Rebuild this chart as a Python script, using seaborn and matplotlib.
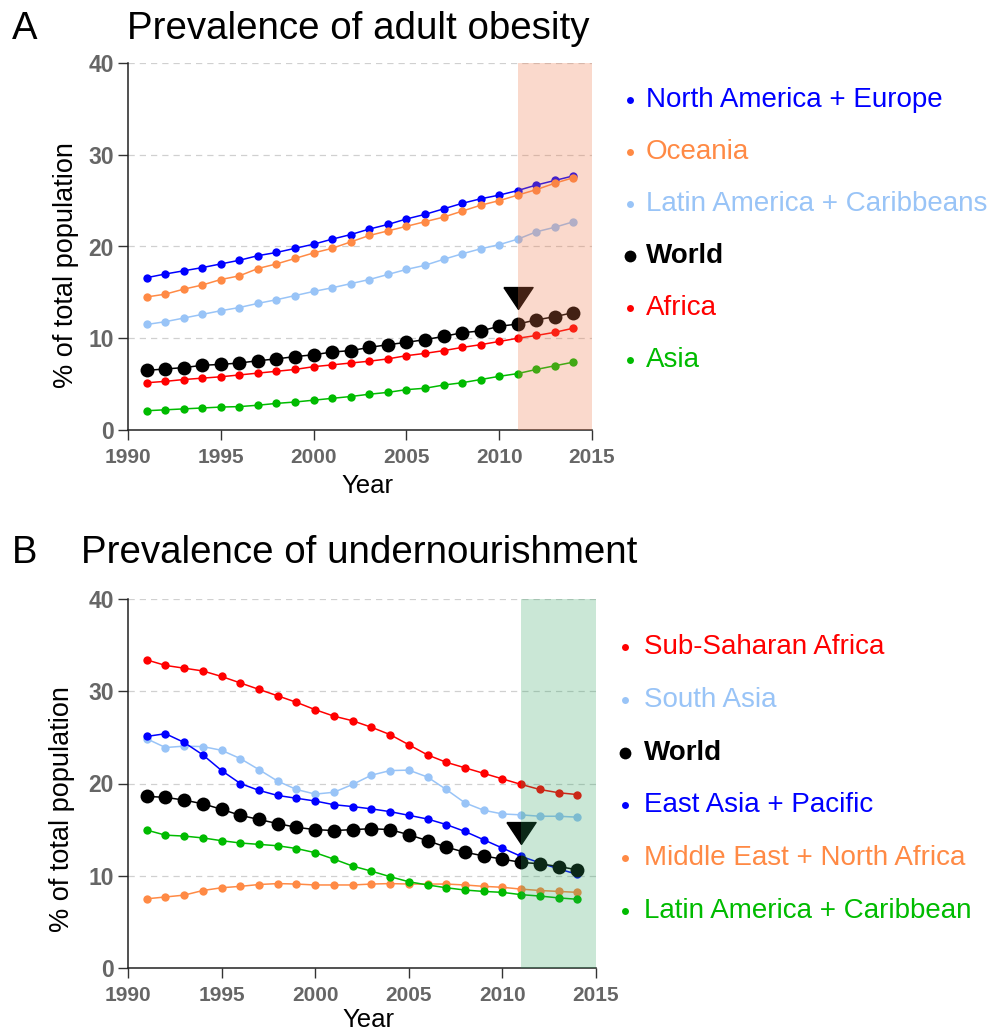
import numpy as np
import pandas as pd
import matplotlib
matplotlib.use('Agg')
import matplotlib.pyplot as plt
from matplotlib.lines import Line2D
import seaborn as sns

years = list(range(1991, 2015))

# panel A - adult obesity (% of total population)
obes_na_eu = [16.6, 17.0, 17.35, 17.7, 18.1, 18.5, 19.0, 19.35, 19.8, 20.25, 20.8, 21.3,
              21.9, 22.4, 23.0, 23.5, 24.1, 24.7, 25.2, 25.6, 26.1, 26.7, 27.2, 27.7]
obes_oceania = [14.5, 14.8, 15.35, 15.8, 16.4, 16.8, 17.6, 18.1, 18.7, 19.3, 19.8, 20.5,
                21.2, 21.7, 22.2, 22.7, 23.2, 23.85, 24.5, 25.0, 25.6, 26.2, 26.9, 27.5]
obes_latam = [11.5, 11.8, 12.2, 12.6, 13.0, 13.35, 13.8, 14.2, 14.65, 15.1, 15.5, 15.95,
              16.4, 16.95, 17.5, 17.95, 18.6, 19.2, 19.75, 20.2, 20.8, 21.6, 22.1, 22.7]
obes_world = [6.5, 6.65, 6.8, 7.05, 7.15, 7.3, 7.55, 7.75, 8.0, 8.2, 8.5, 8.65,
              9.0, 9.3, 9.55, 9.85, 10.2, 10.6, 10.8, 11.3, 11.55, 12.0, 12.35, 12.8]
obes_africa = [5.15, 5.3, 5.5, 5.65, 5.8, 6.0, 6.2, 6.4, 6.6, 6.9, 7.1, 7.3,
               7.5, 7.75, 8.1, 8.35, 8.65, 9.0, 9.3, 9.65, 10.0, 10.3, 10.65, 11.1]
obes_asia = [2.1, 2.2, 2.3, 2.4, 2.5, 2.55, 2.7, 2.9, 3.05, 3.25, 3.45, 3.65,
             3.9, 4.1, 4.4, 4.55, 4.9, 5.15, 5.5, 5.85, 6.15, 6.6, 7.0, 7.4]

# panel B - undernourishment (% of total population)
under_ssa = [33.4, 32.8, 32.5, 32.2, 31.6, 30.9, 30.2, 29.5, 28.8, 28.0, 27.3, 26.8,
             26.1, 25.3, 24.2, 23.1, 22.3, 21.7, 21.1, 20.5, 19.9, 19.35, 19.0, 18.8]
under_sasia = [24.85, 23.9, 24.05, 24.0, 23.6, 22.7, 21.5, 20.25, 19.35, 18.85, 19.05, 19.9,
               20.9, 21.4, 21.45, 20.7, 19.35, 17.9, 17.1, 16.7, 16.6, 16.45, 16.45, 16.35]
under_world = [18.6, 18.5, 18.2, 17.8, 17.2, 16.55, 16.1, 15.65, 15.25, 15.0, 14.9, 15.0,
               15.1, 15.0, 14.45, 13.8, 13.1, 12.55, 12.15, 11.8, 11.45, 11.3, 11.0, 10.65]
under_easia = [25.1, 25.4, 24.45, 23.1, 21.4, 20.0, 19.25, 18.7, 18.4, 18.1, 17.7, 17.5,
               17.25, 16.95, 16.55, 16.15, 15.55, 14.8, 13.9, 13.0, 12.1, 11.4, 10.75, 10.15]
under_mena = [7.5, 7.7, 7.9, 8.4, 8.7, 8.85, 9.05, 9.15, 9.1, 9.0, 9.0, 9.0,
              9.1, 9.15, 9.1, 9.1, 9.1, 9.0, 8.85, 8.75, 8.55, 8.4, 8.3, 8.2]
under_latam = [14.95, 14.4, 14.3, 14.1, 13.8, 13.55, 13.4, 13.25, 12.95, 12.5, 11.8, 11.05,
               10.5, 9.9, 9.35, 9.0, 8.7, 8.45, 8.3, 8.2, 7.95, 7.8, 7.6, 7.45]

names_a = ['North America + Europe', 'Oceania', 'Latin America + Caribbeans', 'World', 'Africa', 'Asia']
names_b = ['Sub-Saharan Africa', 'South Asia', 'World', 'East Asia + Pacific',
           'Middle East + North Africa', 'Latin America + Caribbean']

BLUE = '#0000ff'
ORANGE = '#ff8a45'
LIGHTBLUE = '#99c4f7'
BLACK = '#000000'
RED = '#ff0000'
GREEN = '#00bb00'

series_a = [(obes_na_eu, BLUE), (obes_oceania, ORANGE), (obes_latam, LIGHTBLUE),
            (obes_world, BLACK), (obes_africa, RED), (obes_asia, GREEN)]
series_b = [(under_ssa, RED), (under_sasia, LIGHTBLUE), (under_world, BLACK),
            (under_easia, BLUE), (under_mena, ORANGE), (under_latam, GREEN)]

sns.set_style('ticks')
plt.rcParams['font.family'] = ['Liberation Sans', 'DejaVu Sans']

fig = plt.figure(figsize=(9.98, 10.33), dpi=100)
W, H = 998.0, 1033.0

def fx(px):
    return px / W

def fy(py):
    return 1 - py / H

ax_a = fig.add_axes([fx(128), fy(430), fx(592) - fx(128), fy(63) - fy(430)])
ax_b = fig.add_axes([fx(128), fy(968), fx(596) - fx(128), fy(599) - fy(968)])

# flattened triangle marker
tri = [(-1, 0.75), (1, 0.75), (0, -0.75), (-1, 0.75)]

def draw_panel(ax, series, names, shade_col, shade_alpha, tri_y, xlab_pos, ylab_pos):
    for i, (vals, col) in enumerate(series):
        world = names[i] == 'World'
        sns.lineplot(x=years, y=vals, ax=ax, color=col, marker='o',
                     markersize=10 if world else 6, markeredgewidth=0,
                     linewidth=1.1, zorder=4 if world else 3)
    ax.plot([2011], [tri_y], marker=tri, markersize=21, color='black',
            linestyle='none', zorder=5)
    ax.axvspan(2011, 2015, ymin=0, ymax=1, color=shade_col, alpha=shade_alpha,
               lw=0, zorder=6)
    ax.set_xlim(1990, 2015)
    ax.set_ylim(0, 40)
    ax.set_xticks(range(1990, 2016, 5))
    ax.set_yticks([0, 10, 20, 30, 40])
    for yv in [10, 20, 30, 40]:
        ax.axhline(yv, color='#d0d0d0', lw=0.9, ls=(0, (5, 4)), zorder=1)
    sns.despine(ax=ax)
    for s in ['left', 'bottom']:
        ax.spines[s].set_color('#222222')
        ax.spines[s].set_linewidth(1.1)
    ax.tick_params(axis='both', length=7, width=1.0, color='#333333',
                   labelcolor='#666666')
    ax.tick_params(axis='x', labelsize=15, pad=6)
    ax.tick_params(axis='y', labelsize=16.5, pad=3)
    for lab in ax.get_xticklabels() + ax.get_yticklabels():
        lab.set_fontweight('bold')
    ax.set_xlabel('Year', fontsize=18.5, color='black')
    ax.set_ylabel('% of total population', fontsize=19.5, color='black')
    ax.xaxis.set_label_coords(*xlab_pos)
    ax.yaxis.set_label_coords(*ylab_pos)
    ax.xaxis.label.set_va('center')
    ax.yaxis.label.set_va('center')

draw_panel(ax_a, series_a, names_a, '#f07848', 0.28, 14.4, (0.515, -0.152), (-0.133, 0.45))
draw_panel(ax_b, series_b, names_b, '#2ca25f', 0.25, 14.6, (0.513, -0.141), (-0.142, 0.432))

# titles and panel letters
fig.text(fx(12), fy(29), 'A', fontsize=27.5, va='center', ha='left', color='black')
fig.text(fx(127), fy(29), 'Prevalence of adult obesity', fontsize=27.7, va='center',
         ha='left', color='black')
fig.text(fx(12), fy(553), 'B', fontsize=27.5, va='center', ha='left', color='black')
fig.text(fx(81), fy(553), 'Prevalence of undernourishment', fontsize=27.7, va='center',
         ha='left', color='black')

# legends as coloured labels
def draw_legend(series, names, x_dot, x_txt, y0, step):
    for i, ((vals, col), name) in enumerate(zip(series, names)):
        yy = y0 + i * step
        world = name == 'World'
        fig.add_artist(Line2D([fx(x_dot)], [fy(yy)], marker='o',
                              markersize=8.5 if world else 5, color=col,
                              markeredgewidth=0, transform=fig.transFigure))
        fig.text(fx(x_txt), fy(yy), name, color=col, fontsize=20, va='center',
                 ha='left', fontweight='bold' if world else 'normal')

draw_legend(series_a, names_a, 630, 646, 100, 52)
draw_legend(series_b, names_b, 625, 644, 647, 52.8)

fig.savefig('out.png', dpi=100)
